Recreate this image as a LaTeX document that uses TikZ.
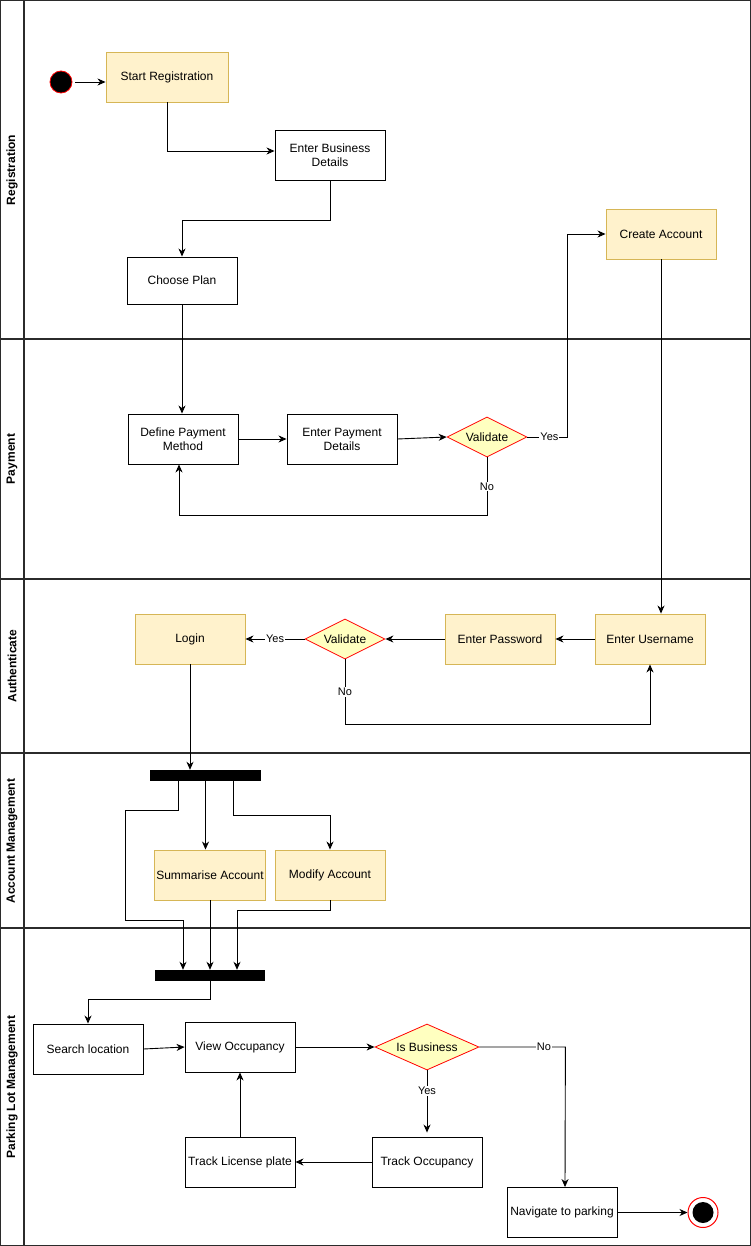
\documentclass[tikz,border=0pt]{standalone}
\usepackage{fontspec}
\setmainfont{Liberation Sans}
\usetikzlibrary{arrows.meta,shapes.geometric,calc}
\definecolor{noteFill}{HTML}{FFF2CC}
\definecolor{noteLine}{HTML}{D6B656}
\definecolor{decFill}{HTML}{FFFFC0}
\definecolor{laneLine}{HTML}{2B2B2B}
\begin{document}
\begin{tikzpicture}[x=1pt,y=-1pt,
  every node/.style={font=\fontsize{12}{14}\selectfont},
  act/.style={draw, rectangle, minimum width=110pt, minimum height=50pt,
    align=center, inner sep=2pt, line width=0.9pt},
  hl/.style={act, fill=noteFill, draw=noteLine},
  dec/.style={diamond, draw=red, fill=decFill, shape aspect=2, inner sep=0pt,
    minimum width=80pt, minimum height=40pt, line width=0.8pt},
  bar/.style={rectangle, fill=black, inner sep=0pt, minimum width=111pt, minimum height=11pt},
  lanetitle/.style={rotate=90, font=\fontsize{12}{14}\selectfont\bfseries},
  lbl/.style={fill=white, inner sep=1pt, font=\fontsize{11}{13}\selectfont},
  flow/.style={draw, line width=0.9pt, -{Stealth[length=8pt,width=7pt,inset=2.5pt]}},
  lane/.style={draw=laneLine, line width=1.2pt}]
\useasboundingbox (0,0) rectangle (751,1246);

% swimlane frame
\draw[lane] (0.6,0.6) rectangle (750.4,1245.4);
\draw[lane] (24,0.6) -- (24,1245.4);
\foreach \yy in {339,579,753,928} \draw[lane] (0.6,\yy) -- (750.4,\yy);

\node[lanetitle] (tReg) at (12,170) {Registration};
\node[lanetitle] (tPay) at (12,459) {Payment};
\node[lanetitle] (tAuth) at (12,666) {Authenticate};
\node[lanetitle] (tAcc) at (12,841) {Account Management};
\node[lanetitle] (tPark) at (12,1087) {Parking Lot Management};

% Registration
\node[circle, fill=black, draw=red, minimum size=22pt, inner sep=0pt, line width=0.8pt] (start) at (61,82) {};
\node[hl, minimum width=122pt] (sreg) at (167,77) {Start Registration};
\node[act] (ebd) at (330,155) {Enter Business\\Details};
\node[act, minimum height=47pt] (plan) at (182,280.5) {Choose Plan};
\node[hl] (cacc) at (661,234) {Create Account};

% Payment
\node[act] (dpm) at (183,439) {Define Payment\\Method};
\node[act] (epd) at (342,439) {Enter Payment\\Details};
\node[dec] (val1) at (487,437) {Validate};

% Authenticate
\node[hl] (euser) at (650,639) {Enter Username};
\node[hl] (epass) at (500,639) {Enter Password};
\node[dec] (val2) at (345,639) {Validate};
\node[hl] (login) at (190,639) {Login};

% Account management
\node[bar] (fork) at (205.5,775.5) {};
\node[hl] (summ) at (210,875) {Summarise Account};
\node[hl] (mod) at (330,875) {Modify Account};
\node[bar, minimum width=110pt] (join) at (210,975.5) {};

% Parking lot management
\node[act] (search) at (88,1049) {Search location};
\node[act] (view) at (240,1047) {View Occupancy};
\node[dec, minimum width=104pt, minimum height=46pt] (isb) at (427,1047) {Is Business};
\node[act] (tocc) at (427,1162) {Track Occupancy};
\node[act] (tlp) at (240,1162) {Track License plate};
\node[act] (nav) at (562,1212.5) {Navigate to parking};
\node[circle, draw=red, fill=white, minimum size=30pt, inner sep=0pt, line width=1pt] (endc) at (703,1212.5) {};
\node[circle, fill=black, minimum size=21pt, inner sep=0pt] (enddot) at (endc) {};

% connectors
\path[flow] ([xshift=3pt]start.east) -- (start.east -| sreg.west);
\path[flow] (sreg.south) |- ([yshift=4pt]ebd.west);
\path[flow] (ebd.south) -- ++(0,40) -| (plan.north);
\path[flow] (plan.south) -- (plan.south |- dpm.north);
\path[flow] (dpm.east) -- (epd.west);
\path[flow] (epd.east) -- (val1.west);
\path[flow] (val1.east) -- node[lbl, pos=0.55]{Yes} ++(40,0) |- (cacc.west);
\path[flow] (val1.south) -- node[lbl]{No} ++(0,58) -| ([xshift=-4pt]dpm.south);
\path[flow] (cacc.south) -- (cacc.south |- euser.north);

\path[flow] (euser.west) -- (epass.east);
\path[flow] (epass.west) -- (val2.east);
\path[flow] (val2.west) -- node[lbl]{Yes} (login.east);
\path[flow] (val2.south) -- node[lbl]{No} ++(0,65) -| (euser.south);
\path[flow] (login.south) -- (login.south |- fork.north);

\path[flow] ([xshift=-27.5pt]fork.south) -- ++(0,29) -- ++(-53,0) -- ++(0,110) -| ([xshift=-27pt]join.north);
\path[flow] (fork.south) -- (fork.south |- summ.north);
\path[flow] ([xshift=27.5pt]fork.south) -- ++(0,34) -| (mod.north);
\path[flow] (summ.south) -- (join.north);
\path[flow] (mod.south) -- ++(0,10) -| ([xshift=27pt]join.north);
\path[flow] (join.south) -- ++(0,18.5) -| (search.north);

\path[flow] (search.east) -- (view.west);
\path[flow] (view.east) -- (isb.west);
\path[flow] (isb.south) -- node[lbl, pos=0.33]{Yes} ([yshift=4pt]tocc.north);
\path[flow] (isb.east) -- node[lbl, pos=0.75]{No} ++(86,0) -- ([xshift=3pt]nav.north);
\path[flow] (tocc.west) -- (tlp.east);
\path[flow] (tlp.north) -- (view.south);
\path[flow] (nav.east) -- (endc.west);
\end{tikzpicture}
\end{document}
